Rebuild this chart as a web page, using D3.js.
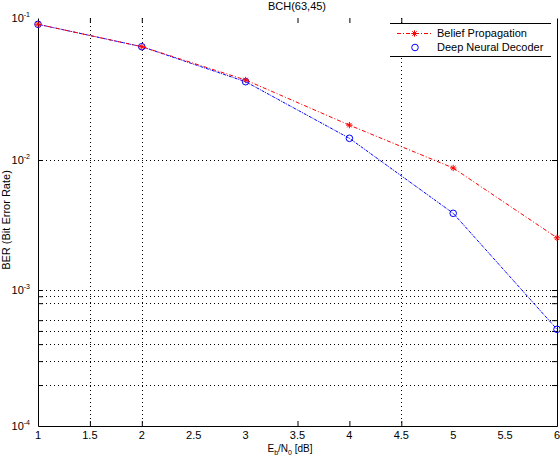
<!DOCTYPE html>
<html>
<head>
<meta charset="utf-8">
<script src="https://cdn.jsdelivr.net/npm/d3@7"></script>
<style>
  body { margin: 0; background: #fff; }
  svg { font-family: "Liberation Sans", Arial, sans-serif; }
</style>
</head>
<body>
<svg id="chart" width="560" height="460"></svg>
<script>
// values
const ebn0 = [1, 2, 3, 4, 5, 6];
const berBP = [0.0903, 0.0628, 0.0366, 0.0176, 0.00868, 0.00252];
const berDNN = [0.0903, 0.0628, 0.0356, 0.01422, 0.00389, 0.000514];

const xTicks = [1, 1.5, 2, 2.5, 3, 3.5, 4, 4.5, 5, 5.5, 6];
const xTickMarks = [1.5, 2, 3.5, 4, 4.5];
const xGrid = [1.5, 2, 4.5];

const yDecades = [1e-4, 1e-3, 1e-2, 1e-1];
const yDecadeExp = ["-4", "-3", "-2", "-1"];
const yGrid = [1e-2, 1e-3, 9e-4, 8e-4, 6e-4, 5e-4, 4e-4, 3e-4, 2e-4];

const seriesNames = ["Belief Propagation", "Deep Neural Decoder"];
const title = "BCH(63,45)";

const svg = d3.select("#chart");
const pLeft = 38, pRight = 557, pTop = 18, pBottom = 426;

const x = d3.scaleLinear().domain([1, 6]).range([pLeft, pRight]);
// piecewise log scale: the decades are not evenly spaced in the picture
const y = d3.scaleLog().domain(yDecades).range([pBottom, 290, 160, pTop]);

// grid
const grid = svg.append("g").attr("stroke", "#000").attr("stroke-width", 1)
    .attr("stroke-dasharray", "1,3").attr("shape-rendering", "crispEdges");
grid.selectAll(".gx").data(xGrid).join("line")
    .attr("x1", d => Math.round(x(d)) + 0.5).attr("x2", d => Math.round(x(d)) + 0.5)
    .attr("y1", pTop).attr("y2", pBottom);
grid.selectAll(".gy").data(yGrid).join("line")
    .attr("x1", pLeft).attr("x2", pRight)
    .attr("y1", d => Math.round(y(d)) + 0.5).attr("y2", d => Math.round(y(d)) + 0.5);

// axes
const xAxisB = d3.axisBottom(x).tickValues(xTickMarks).tickSizeInner(-5).tickSizeOuter(0).tickFormat("");
const xAxisT = d3.axisTop(x).tickValues(xTickMarks).tickSizeInner(-5).tickSizeOuter(0).tickFormat("");
const yAxisL = d3.axisLeft(y).tickValues(yGrid).tickSizeInner(-5).tickSizeOuter(0).tickFormat("");
const yAxisR = d3.axisRight(y).tickValues(yGrid).tickSizeInner(-5).tickSizeOuter(0).tickFormat("");

svg.append("g").attr("transform", `translate(0,${pBottom})`).call(xAxisB);
svg.append("g").attr("transform", `translate(0,${pTop})`).call(xAxisT)
    .select(".domain").remove();
svg.append("g").attr("transform", `translate(${pLeft},0)`).call(yAxisL);
svg.append("g").attr("transform", `translate(${pRight},0)`).call(yAxisR);
svg.selectAll(".tick line").attr("stroke", "#000");
svg.selectAll(".domain").attr("stroke", "#000");

// tick labels
svg.append("g").selectAll("text").data(xTicks).join("text")
    .attr("x", d => x(d)).attr("y", 439)
    .attr("text-anchor", "middle").attr("font-size", 11)
    .text(d => d);

const yl = svg.append("g").selectAll("text").data(yDecades).join("text")
    .attr("x", 30).attr("y", d => y(d) + 4)
    .attr("text-anchor", "end").attr("font-size", 11);
yl.text("10").append("tspan")
    .attr("dy", -5).attr("font-size", 7)
    .text((d, i) => yDecadeExp[i]);

// title and axis labels
svg.append("text").attr("x", 297).attr("y", 10).attr("text-anchor", "middle")
    .attr("font-size", 11).text(title);

const xl = svg.append("text").attr("x", 290).attr("y", 452)
    .attr("text-anchor", "middle").attr("font-size", 10);
xl.append("tspan").text("E");
xl.append("tspan").attr("dy", 3).attr("font-size", 7).text("b");
xl.append("tspan").attr("dy", -3).text("/N");
xl.append("tspan").attr("dy", 3).attr("font-size", 7).text("0");
xl.append("tspan").attr("dy", -3).text(" [dB]");

svg.append("text").attr("transform", "translate(10,220) rotate(-90)")
    .attr("text-anchor", "middle").attr("font-size", 11)
    .text("BER (Bit Error Rate)");

// series
const bp = ebn0.map((e, i) => [e, berBP[i]]);
const dnn = ebn0.map((e, i) => [e, berDNN[i]]);
const line = d3.line().x(d => x(d[0])).y(d => y(d[1]));

const star = (s, cx, cy) => `M${cx - s},${cy}H${cx + s}M${cx},${cy - s}V${cy + s}` +
    `M${cx - s * 0.7},${cy - s * 0.7}L${cx + s * 0.7},${cy + s * 0.7}` +
    `M${cx - s * 0.7},${cy + s * 0.7}L${cx + s * 0.7},${cy - s * 0.7}`;

svg.append("path").datum(dnn).attr("d", line)
    .attr("fill", "none").attr("stroke", "#0000ff").attr("stroke-width", 1)
    .attr("stroke-dasharray", "3,1,1,1");
svg.append("g").selectAll("circle").data(dnn).join("circle")
    .attr("cx", d => x(d[0])).attr("cy", d => y(d[1])).attr("r", 3.3)
    .attr("fill", "none").attr("stroke", "#0000ff");

svg.append("path").datum(bp).attr("d", line)
    .attr("fill", "none").attr("stroke", "#ff0000").attr("stroke-width", 1)
    .attr("stroke-dasharray", "4,2,1,2");
svg.append("g").selectAll("path").data(bp).join("path")
    .attr("d", d => star(3.2, x(d[0]), y(d[1])))
    .attr("fill", "none").attr("stroke", "#ff0000").attr("stroke-width", 1);

// legend
const lg = svg.append("g");
lg.append("rect").attr("x", 390).attr("y", 23).attr("width", 161).attr("height", 33).attr("fill", "#fff");
lg.append("line").attr("x1", 390).attr("x2", 551).attr("y1", 23.5).attr("y2", 23.5).attr("stroke", "#000");
lg.append("line").attr("x1", 390).attr("x2", 551).attr("y1", 56.5).attr("y2", 56.5).attr("stroke", "#000");
lg.append("line").attr("x1", 397).attr("x2", 432).attr("y1", 33.5).attr("y2", 33.5)
    .attr("stroke", "#ff0000").attr("stroke-dasharray", "4,2,1,2");
lg.append("path").attr("d", star(3.2, 414.5, 33.5)).attr("stroke", "#ff0000").attr("fill", "none").attr("stroke-width", 1);
lg.append("circle").attr("cx", 415).attr("cy", 47.5).attr("r", 3.3).attr("fill", "none").attr("stroke", "#0000ff");
lg.selectAll("text").data(seriesNames).join("text")
    .attr("x", 437).attr("y", (d, i) => 37 + i * 14).attr("font-size", 11)
    .text(d => d);
</script>
</body>
</html>
